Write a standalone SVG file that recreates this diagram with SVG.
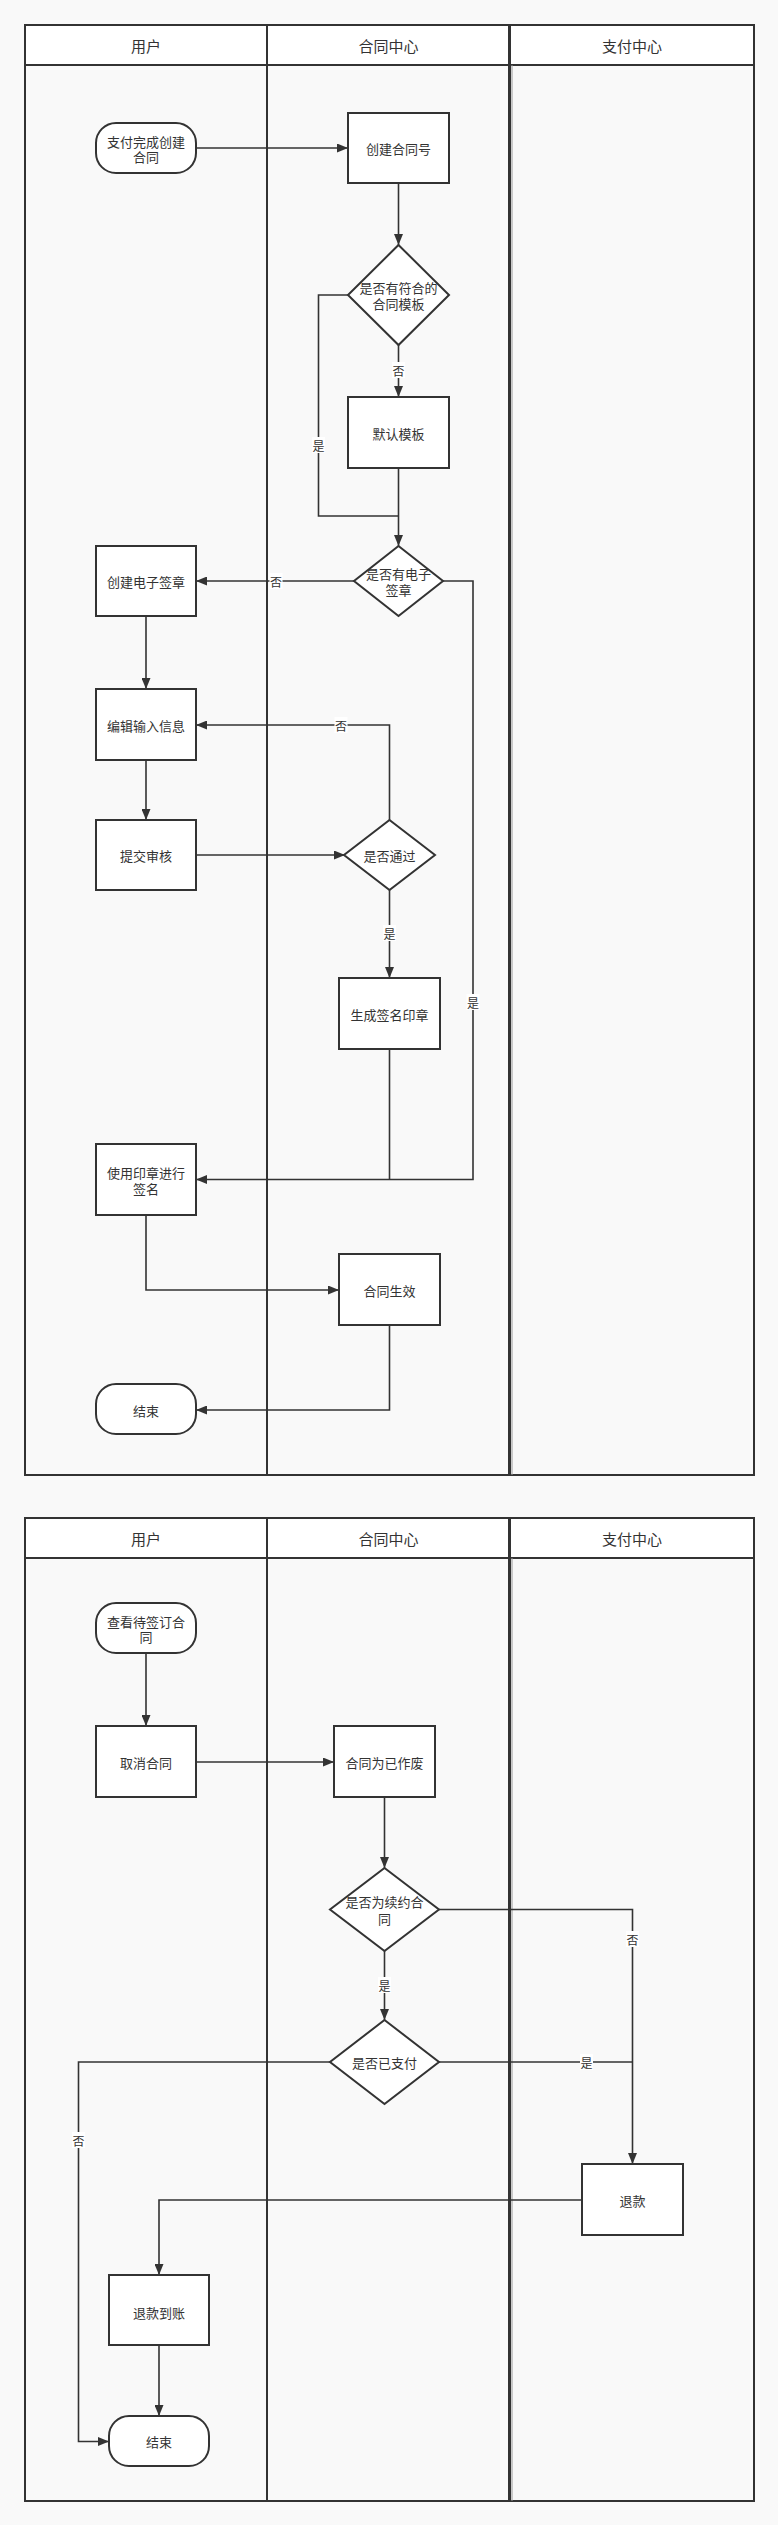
<svg xmlns="http://www.w3.org/2000/svg" width="778" height="2525" viewBox="0 0 778 2525">
<style>
.pool{fill:#f9f9f9;stroke:#333;stroke-width:2}
.hdr{fill:#fff;stroke:#333;stroke-width:2}
.lane{stroke:#333;stroke-width:2;fill:none}
.lane2{stroke:#333;stroke-width:3;fill:none}
.lanel{stroke:#999;stroke-width:1;fill:none}
.box{fill:#fff;stroke:#333;stroke-width:2}
.edge{fill:none;stroke:#333;stroke-width:1.6}
.t{font-family:"Noto Sans CJK SC","Noto Sans",sans-serif;font-size:13px;fill:#333;text-anchor:middle;dominant-baseline:central}
.h{font-family:"Noto Sans CJK SC","Noto Sans",sans-serif;font-size:15px;fill:#333;text-anchor:middle;dominant-baseline:central}
.l{font-family:"Noto Sans CJK SC","Noto Sans",sans-serif;font-size:12px;fill:#333;text-anchor:middle;dominant-baseline:central}
.lb{fill:#fff;stroke:none}
</style>
<defs>
<marker id="arr" markerUnits="userSpaceOnUse" viewBox="0 0 11 9" refX="11" refY="4.5" markerWidth="11" markerHeight="9" orient="auto">
<path d="M0,0 L11,4.5 L0,9 z" fill="#333"/>
</marker>
</defs>
<rect x="0" y="0" width="778" height="2525" fill="#f9f9f9"/>

<g id="pool1">
<rect class="pool" x="25" y="25" width="729" height="1450"/>
<rect class="hdr" x="25" y="25" width="729" height="40"/>
<line class="lane" x1="267" y1="25" x2="267" y2="1475"/>
<line class="lane2" x1="509.5" y1="25" x2="509.5" y2="1475"/>
<line class="lanel" x1="512" y1="65" x2="512" y2="1475"/>
<text class="h" x="146" y="45">用户</text>
<text class="h" x="388.5" y="45">合同中心</text>
<text class="h" x="632" y="45">支付中心</text>
</g>

<g id="pool2">
<rect class="pool" x="25" y="1518" width="729" height="983"/>
<rect class="hdr" x="25" y="1518" width="729" height="40"/>
<line class="lane" x1="267" y1="1518" x2="267" y2="2501"/>
<line class="lane2" x1="509.5" y1="1518" x2="509.5" y2="2501"/>
<line class="lanel" x1="512" y1="1558" x2="512" y2="2501"/>
<text class="h" x="146" y="1538">用户</text>
<text class="h" x="388.5" y="1538">合同中心</text>
<text class="h" x="632" y="1538">支付中心</text>
</g>

<g id="connectors">
<path class="edge" d="M196,148 L348,148" marker-end="url(#arr)"/>
<path class="edge" d="M398.5,183 L398.5,245" marker-end="url(#arr)"/>
<path class="edge" d="M398.5,345 L398.5,397" marker-end="url(#arr)"/>
<path class="edge" d="M348,295 L318.5,295 L318.5,516 L398.5,516"/>
<path class="edge" d="M398.5,468 L398.5,546" marker-end="url(#arr)"/>
<path class="edge" d="M354,581 L196,581" marker-end="url(#arr)"/>
<path class="edge" d="M443,581 L473,581 L473,1179.5 L196,1179.5" marker-end="url(#arr)"/>
<path class="edge" d="M146,616 L146,689" marker-end="url(#arr)"/>
<path class="edge" d="M146,760 L146,820" marker-end="url(#arr)"/>
<path class="edge" d="M196,855 L345,855" marker-end="url(#arr)"/>
<path class="edge" d="M389.5,820 L389.5,725 L196,725" marker-end="url(#arr)"/>
<path class="edge" d="M389.5,890 L389.5,978" marker-end="url(#arr)"/>
<path class="edge" d="M389.5,1049 L389.5,1179.5"/>
<path class="edge" d="M146,1215 L146,1290 L339,1290" marker-end="url(#arr)"/>
<path class="edge" d="M389.5,1325 L389.5,1410 L196,1410" marker-end="url(#arr)"/>

<path class="edge" d="M146,1653 L146,1726" marker-end="url(#arr)"/>
<path class="edge" d="M196,1762 L334,1762" marker-end="url(#arr)"/>
<path class="edge" d="M384.5,1797 L384.5,1868" marker-end="url(#arr)"/>
<path class="edge" d="M439,1909.5 L632.5,1909.5 L632.5,2164" marker-end="url(#arr)"/>
<path class="edge" d="M384.5,1951 L384.5,2020" marker-end="url(#arr)"/>
<path class="edge" d="M439,2062 L632.5,2062"/>
<path class="edge" d="M330,2062 L78.5,2062 L78.5,2441.5 L109,2441.5" marker-end="url(#arr)"/>
<path class="edge" d="M582,2200 L159,2200 L159,2275" marker-end="url(#arr)"/>
<path class="edge" d="M159,2345 L159,2416" marker-end="url(#arr)"/>

<rect class="lb" x="392" y="362" width="13" height="16"/><text class="l" x="398.5" y="370">否</text>
<rect class="lb" x="312" y="437" width="13" height="16"/><text class="l" x="318.5" y="445">是</text>
<rect class="lb" x="269.5" y="573" width="13" height="16"/><text class="l" x="276" y="581">否</text>
<rect class="lb" x="466.5" y="994" width="13" height="16"/><text class="l" x="473" y="1002">是</text>
<rect class="lb" x="334.5" y="717" width="13" height="16"/><text class="l" x="341" y="725">否</text>
<rect class="lb" x="383" y="925" width="13" height="16"/><text class="l" x="389.5" y="933">是</text>
<rect class="lb" x="626" y="1931" width="13" height="16"/><text class="l" x="632.5" y="1939">否</text>
<rect class="lb" x="378" y="1977" width="13" height="16"/><text class="l" x="384.5" y="1985">是</text>
<rect class="lb" x="580" y="2054" width="13" height="16"/><text class="l" x="586.5" y="2062">是</text>
<rect class="lb" x="72" y="2132" width="13" height="16"/><text class="l" x="78.5" y="2140">否</text>
</g>

<g id="n-start1"><rect class="box" x="96" y="123" width="100" height="50" rx="20" ry="20"/><text class="t" x="146" y="141">支付完成创建</text><text class="t" x="146" y="156">合同</text></g>
<g id="n-create-no"><rect class="box" x="348" y="113" width="101" height="70"/><text class="t" x="398.5" y="148">创建合同号</text></g>
<g id="d-template"><polygon class="box" points="398.5,245 449,295 398.5,345 348,295"/><text class="t" x="398.5" y="287">是否有符合的</text><text class="t" x="398.5" y="303">合同模板</text></g>
<g id="n-default"><rect class="box" x="348" y="397" width="101" height="71"/><text class="t" x="398.5" y="433">默认模板</text></g>
<g id="d-seal"><polygon class="box" points="398.5,546 443,581 398.5,616 354,581"/><text class="t" x="398.5" y="573">是否有电子</text><text class="t" x="398.5" y="589">签章</text></g>
<g id="n-create-seal"><rect class="box" x="96" y="546" width="100" height="70"/><text class="t" x="146" y="581">创建电子签章</text></g>
<g id="n-edit"><rect class="box" x="96" y="689" width="100" height="71"/><text class="t" x="146" y="725">编辑输入信息</text></g>
<g id="n-submit"><rect class="box" x="96" y="820" width="100" height="70"/><text class="t" x="146" y="855">提交审核</text></g>
<g id="d-pass"><polygon class="box" points="389.5,820 435,855 389.5,890 344,855"/><text class="t" x="389.5" y="855">是否通过</text></g>
<g id="n-gen"><rect class="box" x="339" y="978" width="101" height="71"/><text class="t" x="389.5" y="1014">生成签名印章</text></g>
<g id="n-sign"><rect class="box" x="96" y="1144" width="100" height="71"/><text class="t" x="146" y="1172">使用印章进行</text><text class="t" x="146" y="1188">签名</text></g>
<g id="n-effect"><rect class="box" x="339" y="1254" width="101" height="71"/><text class="t" x="389.5" y="1290">合同生效</text></g>
<g id="n-end1"><rect class="box" x="96" y="1384" width="100" height="50" rx="20" ry="20"/><text class="t" x="146" y="1410">结束</text></g>

<g id="n-start2"><rect class="box" x="96" y="1603" width="100" height="50" rx="20" ry="20"/><text class="t" x="146" y="1621.5">查看待签订合</text><text class="t" x="146" y="1636.5">同</text></g>
<g id="n-cancel"><rect class="box" x="96" y="1726" width="100" height="71"/><text class="t" x="146" y="1762">取消合同</text></g>
<g id="n-void"><rect class="box" x="334" y="1726" width="101" height="71"/><text class="t" x="384.5" y="1762">合同为已作废</text></g>
<g id="d-renew"><polygon class="box" points="384.5,1868 439,1909.5 384.5,1951 330,1909.5"/><text class="t" x="384.5" y="1901.5">是否为续约合</text><text class="t" x="384.5" y="1918">同</text></g>
<g id="d-paid"><polygon class="box" points="384.5,2020 439,2062 384.5,2104 330,2062"/><text class="t" x="384.5" y="2062">是否已支付</text></g>
<g id="n-refund"><rect class="box" x="582" y="2164" width="101" height="71"/><text class="t" x="632.5" y="2200">退款</text></g>
<g id="n-refunded"><rect class="box" x="109" y="2275" width="100" height="70"/><text class="t" x="159" y="2312">退款到账</text></g>
<g id="n-end2"><rect class="box" x="109" y="2416" width="100" height="50" rx="20" ry="20"/><text class="t" x="159" y="2441.5">结束</text></g>
</svg>
